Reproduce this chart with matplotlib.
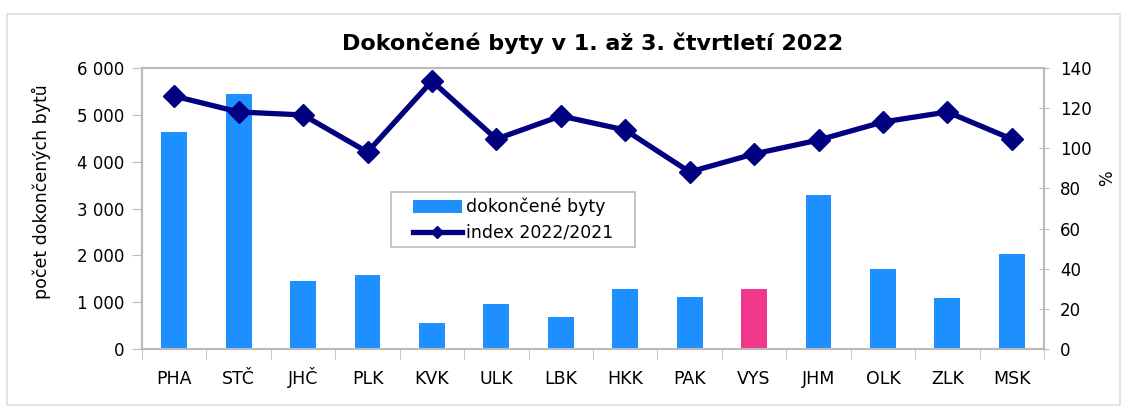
import matplotlib.pyplot as plt
from matplotlib.patches import Rectangle
from matplotlib.ticker import FuncFormatter, MultipleLocator
import numpy as np

# data
kraje = ['PHA', 'STČ', 'JHČ', 'PLK', 'KVK', 'ULK', 'LBK', 'HKK', 'PAK', 'VYS', 'JHM', 'OLK', 'ZLK', 'MSK']
byty = [4630, 5445, 1452, 1580, 555, 961, 683, 1281, 1110, 1281, 3288, 1708, 1089, 2028]
index = [126.0, 118.1, 116.6, 98.1, 133.5, 104.6, 116.1, 109.1, 88.2, 97.2, 104.1, 113.1, 118.1, 104.6]
zvyrazneny = 'VYS'

plt.rcParams['font.family'] = ['DejaVu Sans']
plt.rcParams['font.size'] = 12

fig = plt.figure(figsize=(11.27, 4.07), dpi=100)
ax = fig.add_axes([142 / 1127, 1 - 349 / 407, (1044 - 142) / 1127, (349 - 68) / 407])
ax2 = ax.twinx()

x = np.arange(len(kraje))
barvy = ['#F0378C' if k == zvyrazneny else '#1E8FFF' for k in kraje]
ax.bar(x, byty, width=0.4, color=barvy, label='dokončené byty', zorder=2)
ax2.plot(x, index, color='#000080', lw=3.8, marker='D', ms=11.5, label='index 2022/2021', zorder=3)

ax.set_xlim(-0.5, len(kraje) - 0.5)
ax.set_ylim(0, 6000)
ax2.set_ylim(0, 140)
ax.yaxis.set_major_locator(MultipleLocator(1000))
ax2.yaxis.set_major_locator(MultipleLocator(20))
ax.yaxis.set_major_formatter(FuncFormatter(lambda v, p: f'{int(v):,}'.replace(',', ' ')))

ax.set_xticks(x)
ax.set_xticklabels(kraje, va='baseline', fontsize=12.5)
ax.set_xticks(np.arange(-0.5, len(kraje)), minor=True)
ax.tick_params(axis='x', which='major', length=0, pad=25)
ax.tick_params(axis='x', which='minor', length=7, color='#BBBBBB', direction='out')
ax.tick_params(axis='y', length=7, color='#BBBBBB', pad=6)
ax2.tick_params(axis='y', length=7, color='#BBBBBB', direction='inout', pad=8)

for a in (ax, ax2):
    for s in a.spines.values():
        s.set_color('#BBBBBB')
        s.set_linewidth(1.5)

ax.set_ylabel('počet dokončených bytů', fontsize=12.5)
ax.yaxis.set_label_coords(-0.101, 0.559)
ax2.set_ylabel('%')
ax2.yaxis.set_label_coords(1.060, 0.609)
ax.set_title('Dokončené byty v 1. až 3. čtvrtletí 2022', fontweight='bold', fontsize=16, pad=13)

# legenda - ramecek kreslim zvlast
h1, l1 = ax.get_legend_handles_labels()
h2, l2 = ax2.get_legend_handles_labels()
leg = ax2.legend(h1 + h2, l1 + l2, loc='upper left', bbox_to_anchor=((413 - 142) / 902, (349 - 198) / 281),
                 borderaxespad=0, borderpad=0, frameon=False, fontsize=12.5,
                 handlelength=2.8, handletextpad=0.25, labelspacing=0.42)
for hnd in leg.legend_handles:
    if hasattr(hnd, 'set_markersize'):
        hnd.set_markersize(6)
ax2.add_patch(Rectangle(((391 - 142) / 902, (349 - 247) / 281), 244 / 902, 55 / 281,
                        transform=ax2.transAxes, facecolor='white', edgecolor='#BBBBBB', lw=1.2, zorder=4))
leg.set_zorder(5)

fig.patches.append(Rectangle((7 / 1127, 0.005), 1 - 14 / 1127, 1 - 14 / 407 - 0.005, transform=fig.transFigure,
                             fill=False, edgecolor='#DDDDDD', lw=1.2))

fig.savefig('out.png', dpi=100)
